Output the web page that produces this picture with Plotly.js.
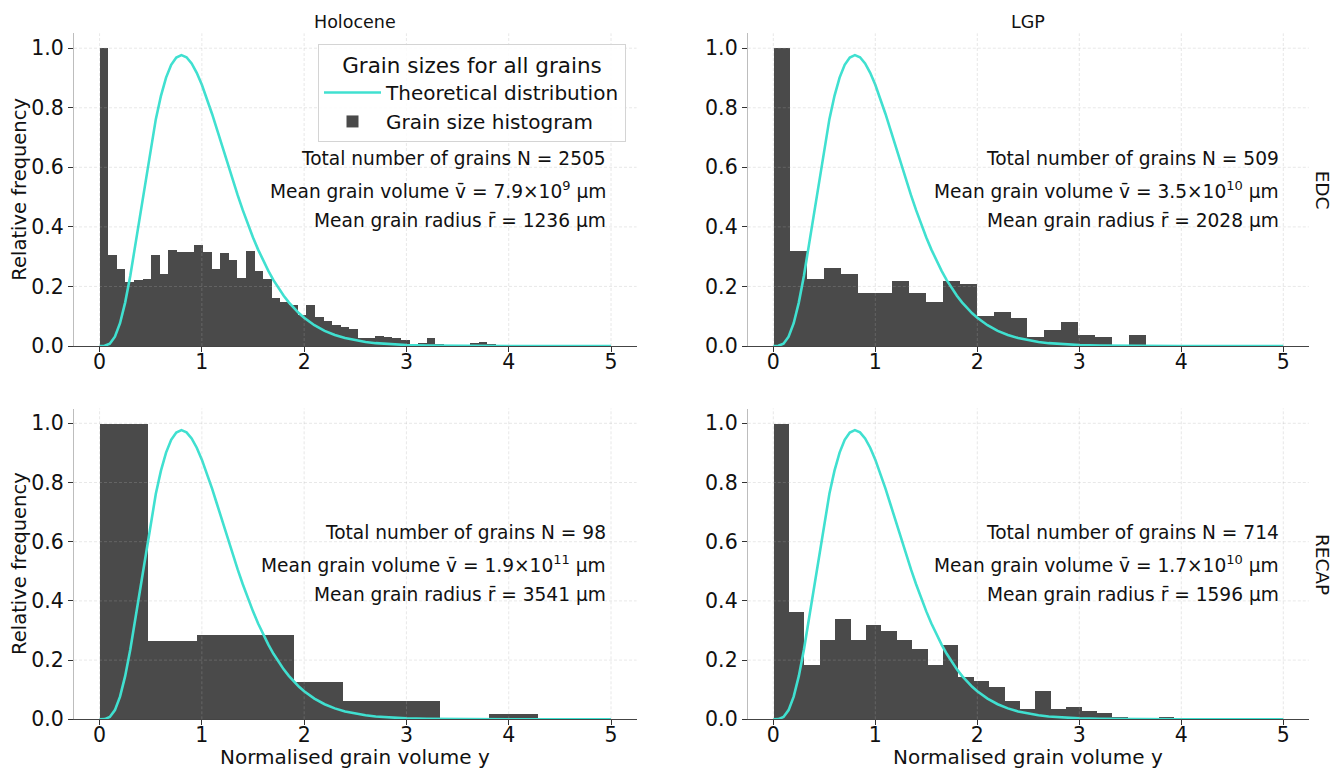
<!DOCTYPE html>
<html><head><meta charset="utf-8">
<script src="https://cdn.plot.ly/plotly-3.0.1.min.js"></script>
<style>html,body{margin:0;padding:0;background:#fff}#chart{width:1335px;height:769px}</style>
</head><body><div id="chart"></div>
<script>
// ---- data ----
const columnTitles = ['Holocene', 'LGP'];
const rowTitles = ['EDC', 'RECAP'];

// theoretical distribution (identical in all panels)
const curveX = [0,0.05,0.1,0.15,0.2,0.25,0.3,0.35,0.4,0.45,0.5,0.55,0.6,0.65,0.7,0.75,0.8,0.85,0.9,0.95,
  1.0,1.05,1.1,1.15,1.2,1.25,1.3,1.35,1.4,1.45,1.5,1.55,1.6,1.65,1.7,1.75,1.8,1.85,1.9,1.95,
  2.0,2.1,2.2,2.3,2.4,2.5,2.6,2.7,2.8,2.9,3.0,3.2,3.4,3.6,3.8,4.0,4.5,5.0];
const curveY = [0,0.0006,0.0079,0.0311,0.0766,0.1457,0.2353,0.3396,0.4511,0.5628,0.6680,0.7617,0.8402,0.9011,0.9441,0.9689,0.9769,0.9695,0.9490,0.9175,
  0.8773,0.8305,0.7791,0.7248,0.6693,0.6137,0.5591,0.5064,0.4561,0.4088,0.3646,0.3237,0.2863,0.2521,0.2213,0.1935,0.1687,0.1466,0.1270,0.1098,
  0.0946,0.0697,0.0509,0.0369,0.0265,0.0190,0.0135,0.0095,0.0067,0.0046,0.0032,0.0015,0.0007,0.0003,0.0002,0.0001,0,0];

// histogram bin widths (bins start at 0)
const binHoloEDC = 0.0842;
const binLgpEDC = 0.166;
const binHoloRECAP = 0.476;
const binLgpRECAP = 0.151;

// relative frequencies
const holoEDC = [1.0,0.304,0.256,0.214,0.222,0.225,0.304,0.242,0.321,0.314,0.315,0.338,0.314,0.256,0.310,0.287,0.226,0.318,0.251,0.224,
  0.160,0.148,0.137,0.104,0.138,0.095,0.084,0.068,0.064,0.057,0.025,0.025,0.034,0.030,0.025,0.019,0.005,0.009,0.025,0.007,
  0,0,0,0.009,0.012,0.007];
const lgpEDC = [1.0,0.319,0.224,0.262,0.240,0.178,0.178,0.216,0.178,0.146,0.216,0.208,0.099,0.114,0.092,0.029,0.052,0.078,0.036,0.029,0,0.036];
const holoRECAP = [1.0,0.265,0.286,0.286,0.128,0.062,0.062,0,0.021];
const lgpRECAP = [1.0,0.363,0.186,0.268,0.340,0.268,0.321,0.301,0.268,0.240,0.186,0.252,0.145,0.131,0.110,0.064,0.036,0.097,0.036,0.043,0.030,0.023,0.009,0,0.003,0.009];

// statistics text
const statN = ['2505', '509', '98', '714'];
const statV = ['7.9×10<sup>9</sup>', '3.5×10<sup>10</sup>', '1.9×10<sup>11</sup>', '1.7×10<sup>10</sup>'];
const statR = ['1236', '2028', '3541', '1596'];

const xTicks = [0,1,2,3,4,5];
const yTicks = [0,0.2,0.4,0.6,0.8,1.0];

// ---- build ----
const FONT = 'DejaVu Sans, Liberation Sans, sans-serif';
const hists = [holoEDC, lgpEDC, holoRECAP, lgpRECAP];
const bins = [binHoloEDC, binLgpEDC, binHoloRECAP, binLgpRECAP];
const W = 1335, H = 769;
const xDom = [[74/W, 636.6/W], [747.8/W, 1308.8/W]];
const yDom = [[1-346/H, 1-33.3/H], [1-719.3/H, 1-408.5/H]];

const traces = [];
const layout = {
  width: W, height: H,
  margin: {l:0, r:0, t:0, b:0},
  paper_bgcolor: '#fff', plot_bgcolor: 'rgba(0,0,0,0)',
  font: {family: FONT, color: '#111', size: 18},
  showlegend: true,
  bargap: 0,
  legend: {
    x: 626/W, xanchor: 'right', y: 1-44/H, yanchor: 'top',
    bgcolor: 'rgba(255,255,255,0.85)', bordercolor: '#d4d4d4', borderwidth: 1,
    font: {size: 20, family: FONT, color: '#111'},
    title: {text: 'Grain sizes for all grains', side: 'top center', font: {size: 21.5, family: FONT, color: '#111'}},
    traceorder: 'normal', itemwidth: 57
  },
  annotations: [], shapes: []
};

for (let p = 0; p < 4; p++) {
  const col = p % 2, row = Math.floor(p / 2);
  const sfx = p === 0 ? '' : String(p + 1);
  const xa = 'x' + sfx, ya = 'y' + sfx;
  const h = hists[p], w = bins[p];
  traces.push({
    type: 'scatter', mode: 'lines', x: curveX, y: curveY,
    xaxis: xa, yaxis: ya, name: 'Theoretical distribution',
    line: {color: '#40e0d0', width: 2.6}, showlegend: p === 0, hoverinfo: 'skip'
  });
  traces.push({
    type: 'bar', x: h.map((v, i) => (i + 0.5) * w), y: h, width: w,
    xaxis: xa, yaxis: ya, name: 'Grain size histogram',
    marker: {color: '#4a4a4a', line: {width: 0}}, showlegend: p === 0
  });
  layout['xaxis' + sfx] = {
    domain: xDom[col], anchor: ya, range: [-0.25, 5.25],
    tickvals: xTicks, ticktext: xTicks.map(String),
    ticks: 'outside', ticklen: 5, tickwidth: 1, tickcolor: '#333',
    ticklabelstandoff: -8,
    tickfont: {size: 20.5, family: FONT, color: '#111'},
    showgrid: false, zeroline: false,
    showline: true, linecolor: '#444', linewidth: 1.1
  };
  layout['yaxis' + sfx] = {
    domain: yDom[row], anchor: xa, range: [0, 1.05],
    tickvals: yTicks, ticktext: yTicks.map(v => v.toFixed(1)),
    ticks: 'outside', ticklen: 5, tickwidth: 1, tickcolor: '#333',
    tickfont: {size: 20.5, family: FONT, color: '#111'},
    showgrid: false, zeroline: false,
    showline: true, linecolor: '#bdbdbd', linewidth: 1
  };
  // grid drawn over the bars, as in the reference
  xTicks.forEach(t => layout.shapes.push({
    type: 'line', layer: 'above', xref: xa, yref: ya + ' domain', x0: t, x1: t, y0: 0, y1: 1,
    line: {color: 'rgba(170,170,170,0.35)', width: 0.8, dash: '3px,2px'}
  }));
  yTicks.slice(1).forEach(t => layout.shapes.push({
    type: 'line', layer: 'above', xref: xa + ' domain', yref: ya, x0: 0, x1: 1, y0: t, y1: t,
    line: {color: 'rgba(170,170,170,0.35)', width: 0.8, dash: '3px,2px'}
  }));
  const lines = [
    'Total number of grains N = ' + statN[p],
    'Mean grain volume v\u0304 = ' + statV[p] + ' µm',
    'Mean grain radius r\u0304 = ' + statR[p] + ' µm'
  ];
  [0.6, 0.5, 0.4].forEach((yy, k) => layout.annotations.push({
    xref: xa + ' domain', yref: ya + ' domain', x: 0.95, y: yy,
    xanchor: 'right', yanchor: 'middle', showarrow: false,
    text: lines[k], font: {size: 18.6, family: FONT, color: '#111'}
  }));
}

// column titles
columnTitles.forEach((t, c) => layout.annotations.push({
  xref: 'paper', yref: 'paper', x: (xDom[c][0] + xDom[c][1]) / 2, y: 1 - 22/H,
  xanchor: 'center', yanchor: 'middle', showarrow: false, text: t,
  font: {size: 17.5, family: FONT, color: '#111'}
}));
// row titles (right side)
rowTitles.forEach((t, r) => layout.annotations.push({
  xref: 'paper', yref: 'paper', x: 1322/W, y: (yDom[r][0] + yDom[r][1]) / 2,
  xanchor: 'center', yanchor: 'middle', showarrow: false, text: t, textangle: 90,
  font: {size: 18.5, family: FONT, color: '#111'}
}));
// y labels
rowTitles.forEach((t, r) => layout.annotations.push({
  xref: 'paper', yref: 'paper', x: 20/W, y: (yDom[r][0] + yDom[r][1]) / 2,
  xanchor: 'center', yanchor: 'middle', showarrow: false, text: 'Relative frequency', textangle: -90,
  font: {size: 19.5, family: FONT, color: '#111'}
}));
// x labels
columnTitles.forEach((t, c) => layout.annotations.push({
  xref: 'paper', yref: 'paper', x: (xDom[c][0] + xDom[c][1]) / 2, y: 1 - 757/H,
  xanchor: 'center', yanchor: 'middle', showarrow: false, text: 'Normalised grain volume y',
  font: {size: 20, family: FONT, color: '#111'}
}));

Plotly.newPlot('chart', traces, layout, {displayModeBar: false, responsive: false});
</script></body></html>
